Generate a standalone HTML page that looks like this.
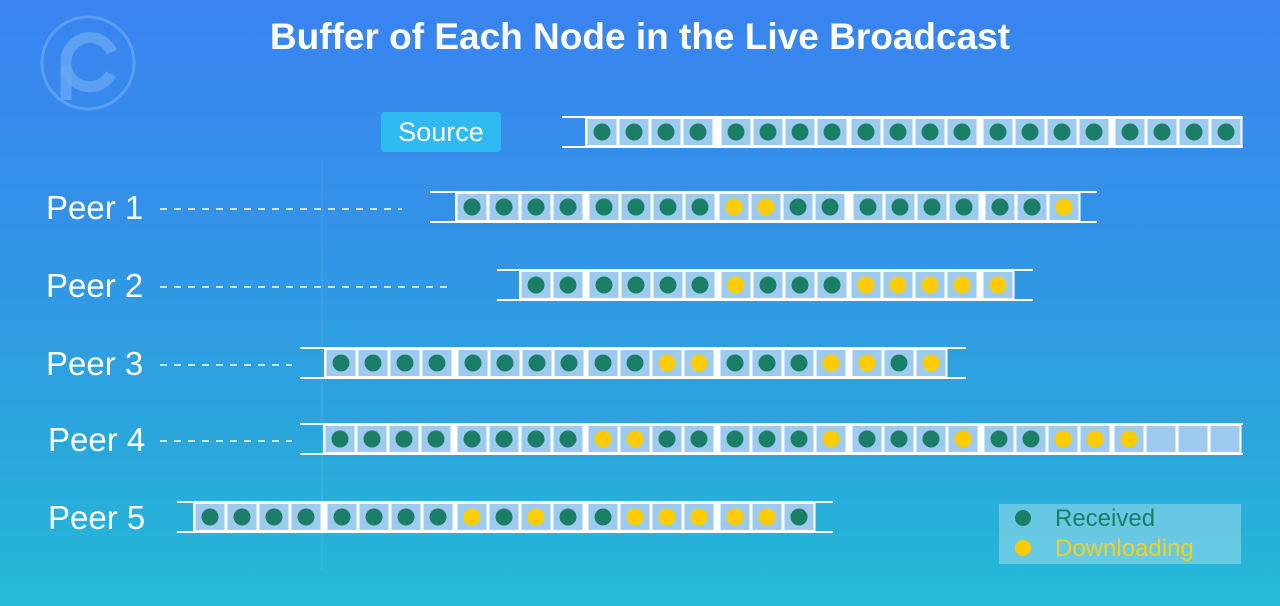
<!DOCTYPE html>
<html><head><meta charset="utf-8"><style>
html,body{margin:0;padding:0}
body{width:1280px;height:606px;overflow:hidden;background:linear-gradient(180deg,#3a83f1 0%,#3391e8 35%,#2aa8dc 75%,#24bad6 100%);font-family:"Liberation Sans",sans-serif;position:relative}
svg{position:absolute;left:0;top:0}
</style></head><body>
<svg id="s" width="1280" height="606" viewBox="0 0 1280 606">
<circle cx="88" cy="63" r="46" fill="none" stroke="#6aa8f5" stroke-opacity="0.7" stroke-width="3"/>
<g fill="none" stroke="#6aa8f5" stroke-opacity="0.75" stroke-width="11">
<path d="M66 100 L66 62"/>
<path d="M66 62 A24 24 0 0 1 112 52"/>
<path d="M111 74 A24 24 0 0 1 66 66"/>
</g>
<line x1="322" y1="160" x2="322" y2="570" stroke="#ffffff" stroke-opacity="0.12" stroke-width="1"/>
<text x="640" y="49" text-anchor="middle" font-size="37" font-weight="bold" fill="#fff" font-family="Liberation Sans, sans-serif">Buffer of Each Node in the Live Broadcast</text>
<rect x="381" y="112" width="120" height="40" rx="4" fill="#2fbaf2"/>
<text x="441" y="141" text-anchor="middle" font-size="27" fill="#fff" font-family="Liberation Sans, sans-serif">Source</text>
<g font-size="33" fill="#fff" font-family="Liberation Sans, sans-serif">
<text x="46" y="219">Peer 1</text>
<text x="46" y="297">Peer 2</text>
<text x="46" y="375">Peer 3</text>
<text x="48" y="451">Peer 4</text>
<text x="48" y="529">Peer 5</text>
</g>
<g stroke="#fff" stroke-width="1.5" stroke-dasharray="7,7">
<line x1="160" y1="209" x2="402" y2="209"/>
<line x1="160" y1="287" x2="450" y2="287"/>
<line x1="160" y1="365" x2="292" y2="365"/>
<line x1="160" y1="441" x2="292" y2="441"/>
</g>
<rect x="999" y="504" width="242" height="60" fill="#ffffff" fill-opacity="0.3"/>
<circle cx="1023" cy="518" r="8" fill="#1a7f66"/>
<circle cx="1023" cy="548" r="8" fill="#ffcc00"/>
<text x="1055" y="526" font-size="24" fill="#1a7f66" font-family="Liberation Sans, sans-serif">Received</text>
<text x="1055" y="556" font-size="24" fill="#f5d020" font-family="Liberation Sans, sans-serif">Downloading</text>
<g id="bars"></g>
</svg>
<script>
var rows=[
 {y:132,s:562,e:1243,g:[[602,"GGGG"],[736,"GGGG"],[866,"GGGG"],[998,"GGGG"],[1130,"GGGG"]]},
 {y:207,s:430,e:1097,g:[[472,"GGGG"],[604,"GGGG"],[734,"YYGG"],[868,"GGGG"],[1000,"GGY"]]},
 {y:285,s:497,e:1033,g:[[536,"GG"],[604,"GGGG"],[736,"YGGG"],[866,"YYYY"],[998,"Y"]]},
 {y:363,s:300,e:966,g:[[341,"GGGG"],[473,"GGGG"],[603,"GGYY"],[735,"GGGY"],[867,"YGY"]]},
 {y:439,s:300,e:1243,g:[[340,"GGGG"],[472,"GGGG"],[603,"YYGG"],[735,"GGGY"],[867,"GGGY"],[999,"GGYY"],[1129,"YEEE"]]},
 {y:517,s:177,e:833,g:[[210,"GGGG"],[342,"GGGG"],[472,"YGYG"],[603,"GYYY"],[735,"YYG"]]}
];
var ns="http://www.w3.org/2000/svg",G=document.getElementById("bars");
function el(t,a){var e=document.createElementNS(ns,t);for(var k in a)e.setAttribute(k,a[k]);G.appendChild(e);return e;}
rows.forEach(function(r){
 var top=r.y-15,bot=r.y+15;
 var fx=r.g[0][0]-17;
 var lg=r.g[r.g.length-1], lx=lg[0]+(lg[1].length-1)*32+16.5;
 el("rect",{x:fx,y:top,width:lx-fx,height:30,fill:"#ffffff"});
 el("line",{x1:r.s,y1:top,x2:r.e,y2:top,stroke:"#fff","stroke-width":2});
 el("line",{x1:r.s,y1:bot,x2:r.e,y2:bot,stroke:"#fff","stroke-width":2});
 r.g.forEach(function(g){
  for(var i=0;i<g[1].length;i++){
   var cx=g[0]+i*32,c=g[1][i];
   el("rect",{x:cx-14.5,y:top+2,width:29,height:26,fill:"#9dcbef"});
   if(c!="E") el("circle",{cx:cx,cy:r.y,r:8.5,fill:c=="G"?"#1a7f66":"#ffcc00"});
  }
 });
});
</script>
</body></html>
